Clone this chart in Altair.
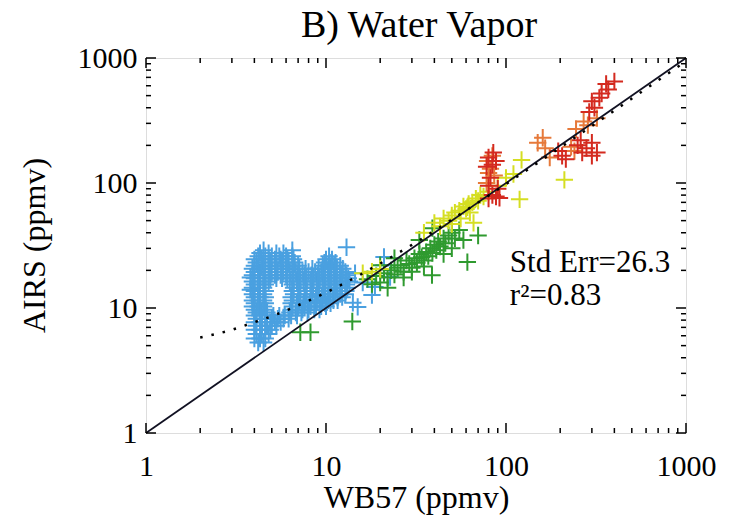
import altair as alt
import pandas as pd

# ---------------- data ----------------
# blue cluster, listed as rows: y value and the x values found on that row
blue_row_y = [5.3, 5.7, 6.2, 6.7, 7.2, 7.7, 8.2, 8.7, 9.2, 9.7, 10.3, 10.9, 11.5, 12.2,
              12.9, 13.7, 14.5, 15.4, 16.3, 17.3, 18.3, 19.4, 20.6, 21.8, 23.1, 24.5,
              26.0, 27.5, 29.0]
blue_row_x = [
    [4.2, 4.5],
    [4.0, 4.3, 4.6],
    [4.1, 4.4, 4.8],
    [4.0, 4.3, 4.6, 4.9],
    [4.1, 4.4, 4.7, 5.0, 5.3],
    [4.0, 4.3, 4.6, 4.9, 5.2, 5.6],
    [4.1, 4.4, 4.7, 5.0, 5.4, 5.8, 6.2],
    [4.0, 4.3, 4.6, 5.1, 5.5, 5.9, 6.4, 6.9],
    [4.1, 4.4, 4.7, 6.3, 6.8, 7.3, 7.9],
    [4.0, 4.3, 4.6, 6.4, 6.9, 7.4, 8.0, 8.6, 9.2],
    [3.9, 4.2, 4.5, 6.5, 7.0, 7.6, 8.2, 8.8, 9.4, 10.0],
    [4.0, 4.3, 4.6, 6.4, 6.9, 7.5, 8.1, 8.7, 9.3, 9.9, 10.6],
    [3.9, 4.2, 4.5, 6.5, 7.1, 7.7, 8.3, 8.9, 9.6, 10.3, 11.0, 11.6],
    [4.0, 4.3, 4.6, 6.4, 7.0, 7.6, 8.2, 8.8, 9.5, 10.2, 10.9, 11.6, 12.3],
    [3.9, 4.2, 4.5, 6.6, 7.2, 7.8, 8.4, 9.0, 9.7, 10.4, 11.2, 12.0, 12.8],
    [4.0, 4.3, 4.6, 6.5, 7.1, 7.7, 8.3, 9.0, 9.7, 10.4, 11.2, 12.0, 12.9],
    [3.9, 4.2, 4.5, 6.6, 7.2, 7.8, 8.5, 9.2, 9.9, 10.6, 11.4, 12.2, 13.1],
    [4.0, 4.3, 4.6, 6.5, 7.1, 7.7, 8.4, 9.1, 9.8, 10.5, 11.3, 12.1, 13.0],
    [3.9, 4.2, 4.5, 4.8, 6.3, 6.9, 7.5, 8.2, 8.9, 9.6, 10.3, 11.1, 11.9, 12.8, 13.5],
    [4.0, 4.3, 4.6, 4.9, 5.3, 5.7, 6.1, 6.6, 7.2, 7.8, 8.5, 9.2, 9.9, 10.7, 11.5, 12.4, 13.3],
    [3.9, 4.2, 4.5, 4.8, 5.2, 5.6, 6.0, 6.5, 7.0, 7.6, 8.3, 9.0, 9.7, 10.5, 11.3, 12.2, 13.0],
    [4.0, 4.3, 4.6, 5.0, 5.4, 5.8, 6.3, 6.8, 7.4, 8.0, 8.7, 9.4, 10.2, 11.0, 11.9, 12.8],
    [3.9, 4.2, 4.5, 4.9, 5.3, 5.7, 6.1, 6.6, 7.1, 7.7, 8.4, 9.1, 9.8, 10.6, 11.5, 12.4],
    [4.0, 4.4, 4.8, 5.2, 5.6, 6.0, 6.5, 7.0, 9.6, 10.3, 11.1, 12.0],
    [4.1, 4.5, 4.9, 5.3, 5.7, 6.2, 6.7, 9.8, 10.5, 11.3],
    [4.0, 4.4, 4.8, 5.2, 5.6, 6.1, 6.6, 10.0, 10.8],
    [4.2, 4.6, 5.0, 5.5, 6.0, 6.5, 10.4],
    [4.3, 4.8, 5.3, 5.8],
    [4.5, 6.5],
]
blue_single = [(3.8, 14.0), (3.8, 17.5), (13.0, 30.6), (21.0, 25.6), (21.0, 22.0),
               (18.0, 12.7), (14.1, 11.0), (15.0, 10.2), (18.7, 14.7), (22.7, 17.7),
               (16.0, 16.0), (14.5, 19.0)]

green_pts = [(7.2, 6.4), (8.2, 6.4), (14, 7.8), (17, 17), (18, 15.5), (19, 18), (20, 16),
             (21, 19), (22, 17.5), (23, 20), (24, 18.5), (25, 21), (26, 22), (27, 19.5),
             (28, 24), (29, 22.5), (30, 21), (31, 25), (32, 23), (33, 27), (34, 25.5),
             (35, 24), (36, 28), (37, 26), (38, 30), (39, 27.5), (40, 32), (41, 29),
             (42, 34), (43, 31), (45, 36), (46, 33), (48, 38), (50, 40), (52, 36), (55, 42),
             (58, 35), (22, 14.5), (27, 17.5), (30, 19.5), (35, 21.5), (45, 27), (50, 30),
             (38.8, 18.3), (61, 23.3), (39, 43.5), (20, 22), (24, 25), (33, 35), (70, 38)]

yellow_pts = [(16, 19), (18, 19.5), (20, 20.5), (35, 40), (40, 48), (43, 45), (45, 52),
              (48, 50), (50, 55), (52, 58), (55, 60), (58, 65), (60, 62), (62, 68), (65, 70),
              (68, 75), (70, 72), (72, 80), (75, 78), (80, 85), (50, 47), (56, 52), (63, 58),
              (61, 64), (66, 48), (122, 153), (119, 74), (211, 106), (90, 95), (100, 110),
              (110, 118)]

orange_pts = [(78, 100), (82, 130), (86, 115), (79, 150), (84, 165), (150, 210), (165, 190),
              (175, 160), (160, 230), (230, 195), (270, 310), (285, 290), (245, 270),
              (320, 330), (240, 180), (80, 120)]

red_pts = [(80, 75), (84, 80), (88, 78), (80, 95), (82, 110), (78, 135), (84, 140), (88, 150),
           (80, 160), (85, 175), (90, 90), (92, 76), (195, 180), (205, 165), (215, 155),
           (250, 200), (265, 175), (280, 190), (300, 165), (320, 175), (260, 220), (300, 210),
           (300, 450), (330, 480), (310, 400), (360, 620), (400, 650), (370, 560), (340, 520),
           (290, 370)]

# one-to-one line and the (linear) regression line
one_x = [1, 1000]
one_y = [1, 1000]
reg_x = [2, 3, 4, 5, 7, 10, 15, 20, 30, 50, 100, 200, 500, 1000]
reg_y = [5.8, 6.7, 7.7, 8.6, 10.5, 13.3, 18, 22.7, 32, 51, 98, 192, 474, 944]

ann_text = ["Std Err=26.3", "r\u00b2=0.83"]
ann_x = [105, 105]
ann_y = [19.4, 10.6]

title_text = ["B) Water Vapor"]

major_ticks = [1, 10, 100, 1000]
minor_ticks = [2, 3, 4, 5, 6, 7, 8, 9, 20, 30, 40, 50, 60, 70, 80, 90,
               200, 300, 400, 500, 600, 700, 800, 900]

groups = ["blue", "green", "yellow", "orange", "red"]
group_colors = ["#4aa0e0", "#2f9a2f", "#d5de22", "#e6793a", "#d42a1f"]

# ---------------- tables ----------------
rows = []
for yv, xs_ in zip(blue_row_y, blue_row_x):
    for xv in xs_:
        rows.append({"x": xv, "y": yv, "g": "blue"})
for xv, yv in blue_single:
    rows.append({"x": xv, "y": yv, "g": "blue"})
for name, pts in [("green", green_pts), ("yellow", yellow_pts),
                  ("orange", orange_pts), ("red", red_pts)]:
    for xv, yv in pts:
        rows.append({"x": xv, "y": yv, "g": name})
pts_df = pd.DataFrame(rows)

one_df = pd.DataFrame({"x": one_x, "y": one_y})
reg_df = pd.DataFrame({"x": reg_x, "y": reg_y})
ann_df = pd.DataFrame({"x": ann_x, "y": ann_y, "t": ann_text})
title_df = pd.DataFrame({"t": title_text})
maj_df = pd.DataFrame({"x": major_ticks, "y": major_ticks})
min_df = pd.DataFrame({"x": minor_ticks, "y": minor_ticks})

W, H = 540, 375
FONT = "Liberation Serif"

xs = alt.Scale(type="log", domain=[1, 1000], nice=False)
ys = alt.Scale(type="log", domain=[1, 1000], nice=False)

x_axis = alt.Axis(values=major_ticks, format="d", grid=False, ticks=False, domain=False,
                  labelFont=FONT, labelFontSize=30, labelColor="black", labelPadding=18,
                  labelFlush=False, labelOverlap=False,
                  title="WB57 (ppmv)", titleFont=FONT, titleFontSize=32,
                  titleFontWeight="normal", titleColor="black",
                  titleBaseline="alphabetic", titleY=74)
y_axis = alt.Axis(values=major_ticks, format="d", grid=False, ticks=False, domain=False,
                  labelFont=FONT, labelFontSize=30, labelColor="black", labelPadding=9,
                  labelFlush=False, labelOverlap=False,
                  title="AIRS (ppmv)", titleFont=FONT, titleFontSize=32,
                  titleFontWeight="normal", titleColor="black",
                  titleBaseline="middle", titleX=-112, titleY=187)

X = alt.X("x:Q", scale=xs, axis=x_axis)
Y = alt.Y("y:Q", scale=ys, axis=y_axis)

points = alt.Chart(pts_df).mark_point(
    shape="M-1,0L1,0M0,-1L0,1", filled=False, strokeWidth=2, size=300, opacity=1
).encode(
    x=X, y=Y,
    color=alt.Color("g:N", scale=alt.Scale(domain=groups, range=group_colors), legend=None),
)

one_line = alt.Chart(one_df).mark_line(color="#111122", strokeWidth=1.8).encode(x=X, y=Y)
reg_line = alt.Chart(reg_df).mark_line(
    color="black", strokeWidth=2.5, strokeDash=[2.5, 9], interpolate="monotone"
).encode(x=X, y=Y)

ann = alt.Chart(ann_df).mark_text(
    align="left", baseline="alphabetic", font=FONT, fontSize=31, color="black"
).encode(x=X, y=Y, text="t:N")

title_mark = alt.Chart(title_df).mark_text(
    align="center", baseline="alphabetic", font=FONT, fontSize=38, color="black"
).encode(x=alt.value(W / 2 + 3), y=alt.value(-21), text="t:N")

def xticks(df, length):
    bot = alt.Chart(df).mark_rule(color="black", strokeWidth=1.5).encode(
        x=X, y=alt.value(H), y2=alt.value(H - length))
    top = alt.Chart(df).mark_rule(color="black", strokeWidth=1.5).encode(
        x=X, y=alt.value(0), y2=alt.value(length))
    return [bot, top]

def yticks(df, length):
    left = alt.Chart(df).mark_rule(color="black", strokeWidth=1.5).encode(
        y=Y, x=alt.value(0), x2=alt.value(length))
    right = alt.Chart(df).mark_rule(color="black", strokeWidth=1.5).encode(
        y=Y, x=alt.value(W), x2=alt.value(W - length))
    return [left, right]

tick_layers = xticks(maj_df, 10) + xticks(min_df, 5) + yticks(maj_df, 10) + yticks(min_df, 5)

chart = alt.layer(points, one_line, reg_line, ann, title_mark, *tick_layers).properties(
    width=W, height=H,
    autosize=alt.AutoSizeParams(type="none"),
    padding={"left": 146, "top": 58, "right": 54, "bottom": 91},
).configure_view(stroke="black", strokeWidth=2).configure(background="white")

chart.save("out.html", embed_options={"renderer": "svg", "actions": False})
